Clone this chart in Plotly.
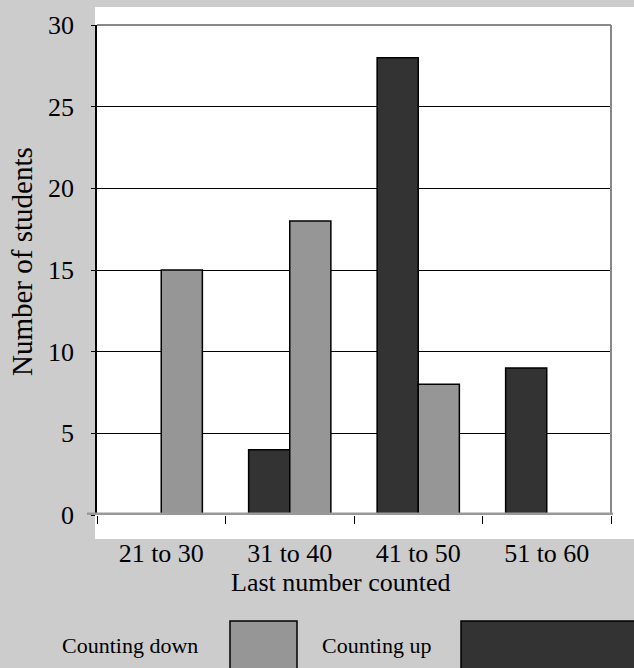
import plotly.graph_objects as go

# data
categories = ['21 to 30', '31 to 40', '41 to 50', '51 to 60']
counting_up = [0, 4, 28, 9]
counting_down = [15, 18, 8, 0]

GREY = '#969696'
DARK = '#333333'
BG = '#cccccc'
FONT = 'Liberation Serif'

W, H = 634, 668
L, R, T, B = 97, 23, 25, 153
pw, ph = W - L - R, H - T - B


def px_x(x):
    return (x - L) / pw


def px_y(y):
    return (H - B - y) / ph


fig = go.Figure()
fig.add_trace(go.Bar(x=categories, y=counting_up, name='Counting up',
                     marker=dict(color=DARK, line=dict(color='black', width=1.5))))
fig.add_trace(go.Bar(x=categories, y=counting_down, name='Counting down',
                     marker=dict(color=GREY, line=dict(color='black', width=1.5))))

shapes = [
    # white panel behind the plot
    dict(type='rect', xref='paper', yref='paper', layer='below',
         x0=px_x(95), x1=px_x(640), y0=px_y(539), y1=px_y(7),
         fillcolor='white', line=dict(width=0)),
    # top and right border
    dict(type='line', xref='paper', yref='paper', x0=0, x1=1, y0=1, y1=1,
         line=dict(color='#888888', width=2)),
    dict(type='line', xref='paper', yref='paper', x0=1, x1=1, y0=0, y1=1,
         line=dict(color='#888888', width=2)),
    # thick grey floor
    dict(type='line', xref='paper', yref='y', x0=px_x(87), x1=px_x(613), y0=0, y1=0,
         line=dict(color='#999999', width=5)),
    # legend swatches
    dict(type='rect', xref='paper', yref='paper',
         x0=px_x(230), x1=px_x(297), y0=px_y(680), y1=px_y(621),
         fillcolor=GREY, line=dict(color='black', width=1.5)),
    dict(type='rect', xref='paper', yref='paper',
         x0=px_x(461), x1=px_x(645), y0=px_y(680), y1=px_y(621),
         fillcolor=DARK, line=dict(color='black', width=1.5)),
]


def label(text, x, y, size, angle=0):
    return dict(text=text, xref='paper', yref='paper', x=px_x(x), y=px_y(y),
                xanchor='center', yanchor='middle', textangle=angle,
                showarrow=False, font=dict(size=size))


annotations = [
    label('Number of students', 22, 262, 29, -90),
    label('Last number counted', 341, 582, 26),
    label('Counting down', 130, 646, 22),
    label('Counting up', 376, 646, 22),
]

fig.update_layout(
    width=W, height=H,
    margin=dict(l=L, r=R, t=T, b=B, pad=0),
    paper_bgcolor=BG, plot_bgcolor='white',
    font=dict(family=FONT, size=26, color='black'),
    barmode='group', bargap=0.36, bargroupgap=0,
    showlegend=False,
    shapes=shapes, annotations=annotations,
)
fig.update_xaxes(
    showgrid=False, showline=False, zeroline=False,
    ticks='outside', tickson='boundaries', ticklen=8, tickwidth=1, tickcolor='black',
    ticklabelstandoff=20,
)
fig.update_yaxes(
    range=[0, 30], dtick=5, showgrid=True, gridcolor='black', gridwidth=1,
    zeroline=False, showline=True, linecolor='black', linewidth=1.5,
    ticks='outside', ticklen=4, tickcolor='black', ticklabelstandoff=12,
)

fig.write_html('out.html', config={'displayModeBar': False},
               post_script="document.body.style.margin='0';")
